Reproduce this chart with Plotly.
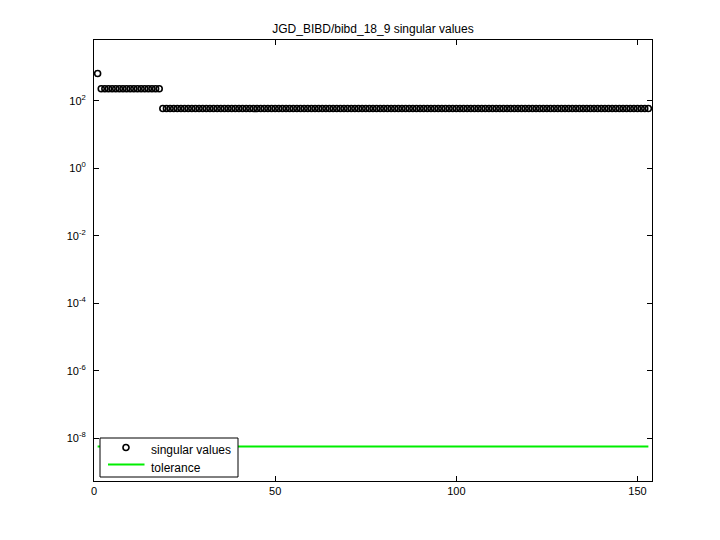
import plotly.graph_objects as go

# singular values of JGD_BIBD/bibd_18_9 (153 of them)
sv_index = list(range(1, 154))
sv_values = [641.7] + [226.9] * 17 + [58.58] * 135
tol_x = [1, 153]
tol_value = 5.7e-9

ytick_vals = [1e-8, 1e-6, 1e-4, 1e-2, 1e0, 1e2]
ytick_text = ["10<sup>-8</sup>", "10<sup>-6</sup>", "10<sup>-4</sup>",
              "10<sup>-2</sup>", "10<sup>0</sup>", "10<sup>2</sup>"]
xtick_vals = [0, 50, 100, 150]
legend_names = ["singular values", "tolerance"]

GREEN = "#00ee00"

fig = go.Figure()
fig.add_trace(go.Scatter(
    x=sv_index, y=sv_values, mode="markers", name=legend_names[0],
    marker=dict(symbol="circle-open", size=6, color="black", line=dict(width=1.6))))
fig.add_trace(go.Scatter(
    x=tol_x, y=[tol_value, tol_value], mode="lines", name=legend_names[1],
    line=dict(color=GREEN, width=2)))

axis_common = dict(showline=True, linecolor="black", linewidth=1, mirror="ticks",
                   ticks="inside", ticklen=5, tickcolor="black", showgrid=False,
                   zeroline=False, tickfont=dict(size=11, color="black"))

# plot area in screen pixels (page body adds an 8px offset)
PX0, PX1, PY0, PY1 = 94, 652, 40, 481


def px(x):
    return (x - PX0) / (PX1 - PX0)


def py(y):
    return (PY1 - y) / (PY1 - PY0)


# hand-drawn legend box, matlab style
shapes = [
    dict(type="rect", xref="paper", yref="paper", x0=px(100), x1=px(238), y0=py(477), y1=py(438),
         line=dict(color="black", width=1), fillcolor="white", layer="above"),
    dict(type="circle", xref="paper", yref="paper", xsizemode="pixel", ysizemode="pixel",
         xanchor=px(126), yanchor=py(447.5), x0=-3, x1=3, y0=-3, y1=3,
         line=dict(color="black", width=1.6), layer="above"),
    dict(type="line", xref="paper", yref="paper", x0=px(108), x1=px(144.5), y0=py(464.5), y1=py(464.5),
         line=dict(color=GREEN, width=2), layer="above"),
]
annotations = [
    dict(text=legend_names[0], xref="paper", yref="paper", x=px(149), y=py(450),
         xanchor="left", yanchor="middle", showarrow=False, font=dict(size=12)),
    dict(text=legend_names[1], xref="paper", yref="paper", x=px(149), y=py(468),
         xanchor="left", yanchor="middle", showarrow=False, font=dict(size=12)),
]

fig.update_layout(
    width=720, height=540,
    paper_bgcolor="white", plot_bgcolor="white",
    font=dict(family="Liberation Sans, Arial, sans-serif", size=11, color="black"),
    margin=dict(l=86, r=76, t=32, b=67),
    title=dict(text="JGD_BIBD/bibd_18_9 singular values", x=(86 + 279) / 720, xanchor="center",
               y=1 - 21 / 540, yanchor="middle", font=dict(size=12)),
    xaxis=dict(range=[0, 154], tickvals=xtick_vals, **axis_common),
    yaxis=dict(type="log", range=[-9.27, 3.8], tickvals=ytick_vals, ticktext=ytick_text,
               ticklabelstandoff=5, **axis_common),
    shapes=shapes,
    annotations=annotations,
    showlegend=False,
)

fig.write_html("out.html")
